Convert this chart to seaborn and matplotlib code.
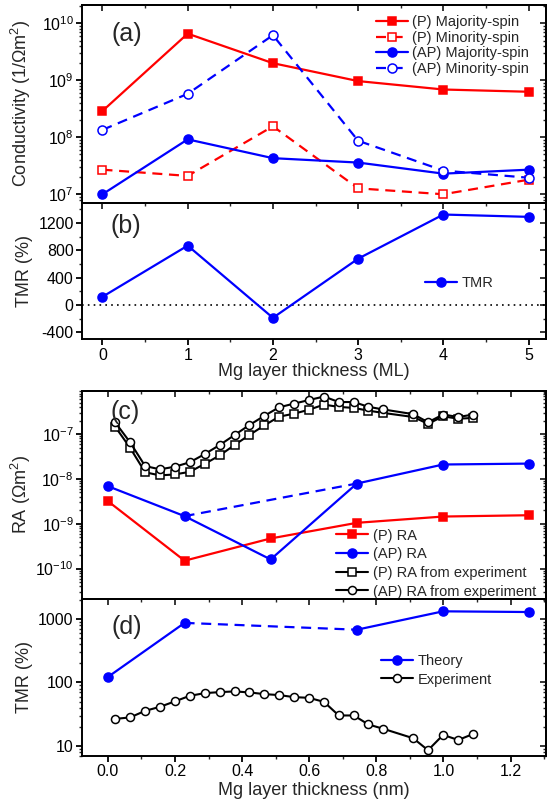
import matplotlib
matplotlib.use("Agg")
import matplotlib.pyplot as plt
import seaborn as sns
from matplotlib.ticker import MultipleLocator, LogLocator, FuncFormatter, NullFormatter

# ---------------- data ----------------
ml = [0, 1, 2, 3, 4, 5]
p_major = [2.9e8, 6.6e9, 2.0e9, 9.7e8, 6.9e8, 6.3e8]
p_minor = [2.7e7, 2.1e7, 1.56e8, 1.27e7, 1.0e7, 1.8e7]
ap_major = [1.0e7, 9.2e7, 4.3e7, 3.6e7, 2.3e7, 2.7e7]
ap_minor = [1.35e8, 5.8e8, 6.2e9, 8.7e7, 2.6e7, 1.95e7]
tmr_ml = [122, 871, -186, 680, 1326, 1292]

nm = [0.0, 0.2286, 0.485, 0.742, 0.999, 1.254]
ra_p = [3.2e-9, 1.5e-10, 4.7e-10, 1.05e-9, 1.45e-9, 1.55e-9]
ra_ap = [6.9e-9, 1.48e-9, 1.6e-10, 7.9e-9, 2.1e-8, 2.2e-8]

x_exp = [0.022, 0.066, 0.111, 0.155, 0.199, 0.244, 0.289, 0.333, 0.378, 0.422,
         0.466, 0.510, 0.555, 0.599, 0.644, 0.688, 0.733, 0.776, 0.821, 0.910,
         0.954, 0.999, 1.044, 1.087]
ra_ap_exp = [1.82e-7, 6.6e-8, 1.94e-8, 1.64e-8, 1.87e-8, 2.35e-8, 3.6e-8, 5.7e-8,
             9.6e-8, 1.6e-7, 2.55e-7, 3.96e-7, 4.8e-7, 5.75e-7, 6.9e-7, 5.2e-7,
             5.2e-7, 4.07e-7, 3.55e-7, 2.79e-7, 1.84e-7, 2.74e-7, 2.41e-7, 2.72e-7]
ra_p_exp = [1.46e-7, 4.98e-8, 1.41e-8, 1.2e-8, 1.26e-8, 1.44e-8, 2.18e-8, 3.34e-8,
            5.75e-8, 9.6e-8, 1.56e-7, 2.45e-7, 2.86e-7, 3.5e-7, 4.55e-7, 4.05e-7,
            3.84e-7, 3.34e-7, 2.97e-7, 2.41e-7, 1.7e-7, 2.49e-7, 2.21e-7, 2.29e-7]
tmr_exp = [26.7, 28.1, 35.7, 41.3, 50.2, 61.6, 68.0, 70.5, 72.3, 69.7, 65.6, 63.3,
           58.8, 57.3, 49.5, 30.2, 30.2, 21.8, 18.6, 13.2, 8.55, 14.9, 12.4, 15.3]

theory_idx = [0, 1, 3, 4, 5]  # 2 ML omitted (negative TMR)

# ---------------- style ----------------
sns.set_theme(style="ticks")
plt.rcParams["font.family"] = ["Liberation Sans", "DejaVu Sans"]
plt.rcParams["mathtext.fontset"] = "custom"
plt.rcParams["mathtext.rm"] = "Liberation Sans"
plt.rcParams["mathtext.it"] = "Liberation Sans:italic"
plt.rcParams["mathtext.bf"] = "Liberation Sans:bold"
plt.rcParams["axes.unicode_minus"] = False
plt.rcParams["axes.linewidth"] = 1.4

RED = "#ff0000"
BLUE = "#0000ff"
DASH = (0, (4.5, 3.0))
TICK_FS = 11.5
LAB_FS = 13
LEG_FS = 10.5

fig = plt.figure(figsize=(5.49, 8.08), dpi=100)
L, W = 0.1494, 0.846
ax_a = fig.add_axes([L, 0.7491, W, 0.2447])
ax_b = fig.add_axes([L, 0.5801, W, 0.1691])
ax_c = fig.add_axes([L, 0.2587, W, 0.2580])
ax_d = fig.add_axes([L, 0.0647, W, 0.1939])


def draw(ax, x, y, color, marker, filled=True, ls="-", ms=6.0, lw=1.6):
    sns.lineplot(x=x, y=y, ax=ax, color=color, marker=marker, linestyle=ls,
                 linewidth=lw, markersize=ms,
                 markerfacecolor=color if filled else "white",
                 markeredgecolor=color, markeredgewidth=1.1, legend=False)
    return ax.lines[-1]


def ticks(ax, xmaj, xmin, ylog=False, ymaj=None, ymin=None, top=True, bottom=True):
    ax.xaxis.set_major_locator(MultipleLocator(xmaj))
    ax.xaxis.set_minor_locator(MultipleLocator(xmin))
    if ylog:
        ax.yaxis.set_major_locator(LogLocator(base=10, numticks=20))
        ax.yaxis.set_minor_locator(LogLocator(base=10, subs=range(2, 10), numticks=20))
        ax.yaxis.set_minor_formatter(NullFormatter())
    else:
        ax.yaxis.set_major_locator(MultipleLocator(ymaj))
        ax.yaxis.set_minor_locator(MultipleLocator(ymin))
    ax.tick_params(which="major", direction="out", length=4.5, width=1.3,
                   labelsize=TICK_FS, pad=1.5, colors="black", top=False, right=False,
                   bottom=bottom, labelbottom=bottom)
    ax.tick_params(which="minor", direction="out", length=2.5, width=1.0,
                   top=False, right=False, bottom=bottom)
    ax.tick_params(axis="x", pad=1.5)
    # mirrored inward ticks on top / right
    sy = ax.secondary_yaxis("right")
    if ylog:
        sy.yaxis.set_major_locator(LogLocator(base=10, numticks=20))
        sy.yaxis.set_minor_locator(LogLocator(base=10, subs=range(2, 10), numticks=20))
    else:
        sy.yaxis.set_major_locator(MultipleLocator(ymaj))
        sy.yaxis.set_minor_locator(MultipleLocator(ymin))
    sy.tick_params(which="major", direction="in", length=4.5, width=1.3, labelright=False)
    sy.tick_params(which="minor", direction="in", length=2.5, width=1.0, labelright=False)
    sy.yaxis.set_minor_formatter(NullFormatter())
    if top:
        sx = ax.secondary_xaxis("top")
        sx.xaxis.set_major_locator(MultipleLocator(xmaj))
        sx.xaxis.set_minor_locator(MultipleLocator(xmin))
        sx.tick_params(which="major", direction="in", length=4.5, width=1.3, labeltop=False)
        sx.tick_params(which="minor", direction="in", length=2.5, width=1.0, labeltop=False)
    for s in ax.spines.values():
        s.set_linewidth(1.4)
        s.set_color("black")


# ---------------- (a) ----------------
h1 = draw(ax_a, ml, p_major, RED, "s", True, "-")
h2 = draw(ax_a, ml, p_minor, RED, "s", False, DASH)
h3 = draw(ax_a, ml, ap_major, BLUE, "o", True, "-", ms=6.5)
h4 = draw(ax_a, ml, ap_minor, BLUE, "o", False, DASH, ms=6.5)
ax_a.set_yscale("log")
ax_a.set_xlim(-0.24, 5.21)
ax_a.set_ylim(7.1e6, 2.1e10)
ticks(ax_a, 1, 0.5, ylog=True, top=True, bottom=False)
ax_a.set_xlabel("")
ax_a.set_ylabel("Conductivity (1/Ωm$^2$)", fontsize=LAB_FS)
ax_a.yaxis.set_label_coords(-0.105, 0.5)
ax_a.text(0.097, 0.853, "(a)", transform=ax_a.transAxes, fontsize=18,
          ha="center", va="center")
ax_a.legend([h1, h2, h3, h4],
            ["(P) Majority-spin", "(P) Minority-spin", "(AP) Majority-spin", "(AP) Minority-spin"],
            loc="upper left", bbox_to_anchor=(0.633, 0.95), frameon=False,
            fontsize=LEG_FS, handlelength=2.2, handletextpad=0.3,
            borderaxespad=0, borderpad=0, labelspacing=0.12)

# ---------------- (b) ----------------
ax_b.axhline(0, color="black", linestyle=(0, (1, 2.5)), linewidth=1.2)
hb = draw(ax_b, ml, tmr_ml, BLUE, "o", True, "-", ms=6.5)
ax_b.set_xlim(-0.24, 5.21)
ax_b.set_ylim(-500, 1500)
ticks(ax_b, 1, 0.5, ymaj=400, ymin=200, top=True, bottom=True)
ax_b.set_xlabel("Mg layer thickness (ML)", fontsize=LAB_FS, labelpad=0)
ax_b.set_ylabel("TMR (%)", fontsize=LAB_FS)
ax_b.yaxis.set_label_coords(-0.105, 0.5)
ax_b.text(0.094, 0.829, "(b)", transform=ax_b.transAxes, fontsize=18,
          ha="center", va="center")
ax_b.legend([hb], ["TMR"], loc="center left", bbox_to_anchor=(0.738, 0.412),
            frameon=False, fontsize=LEG_FS, handlelength=2.2, handletextpad=0.3,
            borderaxespad=0, borderpad=0)

# ---------------- (c) ----------------
hc1 = draw(ax_c, nm, ra_p, RED, "s", True, "-")
hc2 = draw(ax_c, nm, ra_ap, BLUE, "o", True, "-", ms=6.5)
draw(ax_c, [nm[1], nm[3]], [ra_ap[1], ra_ap[3]], BLUE, None, True, DASH)
hc3 = draw(ax_c, x_exp, ra_p_exp, "black", "s", False, "-", ms=5.2, lw=1.5)
hc4 = draw(ax_c, x_exp, ra_ap_exp, "black", "o", False, "-", ms=5.8, lw=1.5)
ax_c.set_yscale("log")
ax_c.set_xlim(-0.077, 1.307)
ax_c.set_ylim(2.1e-11, 9.4e-7)
ticks(ax_c, 0.2, 0.1, ylog=True, top=True, bottom=False)
ax_c.set_xlabel("")
ax_c.set_ylabel("RA (Ωm$^2$)", fontsize=LAB_FS)
ax_c.yaxis.set_label_coords(-0.105, 0.5)
ax_c.text(0.0926, 0.898, "(c)", transform=ax_c.transAxes, fontsize=18,
          ha="center", va="center")
ax_c.legend([hc1, hc2, hc3, hc4],
            ["(P) RA", "(AP) RA", "(P) RA from experiment", "(AP) RA from experiment"],
            loc="upper left", bbox_to_anchor=(0.547, 0.338), frameon=False,
            fontsize=LEG_FS, handlelength=2.2, handletextpad=0.3,
            borderaxespad=0, borderpad=0, labelspacing=0.32)

# ---------------- (d) ----------------
th_x = [nm[i] for i in theory_idx]
th_y = [tmr_ml[i] for i in theory_idx]
draw(ax_d, th_x[:2], th_y[:2], BLUE, "o", True, "-", ms=6.5)
draw(ax_d, th_x[1:3], th_y[1:3], BLUE, None, True, DASH)
hd1 = draw(ax_d, th_x[2:], th_y[2:], BLUE, "o", True, "-", ms=6.5)
hd2 = draw(ax_d, x_exp, tmr_exp, "black", "o", False, "-", ms=5.8, lw=1.5)
ax_d.set_yscale("log")
ax_d.set_xlim(-0.077, 1.307)
ax_d.set_ylim(7.0, 2070)
ticks(ax_d, 0.2, 0.1, ylog=True, top=True, bottom=True)
ax_d.yaxis.set_major_formatter(FuncFormatter(lambda v, p: "%g" % v))
ax_d.xaxis.set_major_formatter(FuncFormatter(lambda v, p: "%.1f" % v))
ax_d.set_xlabel("Mg layer thickness (nm)", fontsize=LAB_FS, labelpad=2)
ax_d.set_ylabel("TMR (%)", fontsize=LAB_FS)
ax_d.yaxis.set_label_coords(-0.105, 0.5)
ax_d.text(0.0965, 0.823, "(d)", transform=ax_d.transAxes, fontsize=18,
          ha="center", va="center")
ax_d.legend([hd1, hd2], ["Theory", "Experiment"], loc="upper left",
            bbox_to_anchor=(0.644, 0.65), frameon=False, fontsize=LEG_FS,
            handlelength=2.2, handletextpad=0.3, borderaxespad=0, borderpad=0,
            labelspacing=0.32)

fig.savefig("out.png", dpi=100)
